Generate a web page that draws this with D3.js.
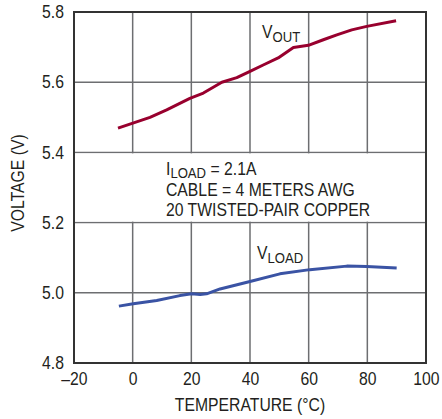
<!DOCTYPE html>
<html><head><meta charset="utf-8">
<script src="https://cdn.jsdelivr.net/npm/d3@7"></script>
<style>
body{margin:0;background:#fff;}
svg text{font-family:"Liberation Sans","Arial",sans-serif;fill:#231f20;}
</style></head>
<body><svg id="c" width="442" height="419"></svg>
<script>
const xTicks = [-20, 0, 20, 40, 60, 80, 100];
const yTicks = [4.8, 5.0, 5.2, 5.4, 5.6, 5.8];
const voutTemp = [-5, 5.9, 11.6, 19.5, 24.1, 30.4, 35.5, 40, 44.5, 49.6, 54.8, 59.9, 65, 69.6, 74.7, 79.8, 89.8];
const voutVals = [5.469, 5.500, 5.521, 5.554, 5.569, 5.600, 5.613, 5.631, 5.649, 5.669, 5.699, 5.705, 5.721, 5.735, 5.749, 5.759, 5.775];
const vloadTemp = [-4.7, 0.2, 8.2, 16.1, 20.1, 23, 25.2, 29.8, 40, 50.2, 60.4, 73, 79.8, 90];
const vloadVals = [4.962, 4.969, 4.978, 4.992, 4.997, 4.995, 4.997, 5.011, 5.032, 5.054, 5.066, 5.076, 5.075, 5.071];
const noteLines = ["CABLE = 4 METERS AWG", "20 TWISTED-PAIR COPPER"];

const SQ = 0.875;
function condense(sel) {
  sel.each(function () {
    const xx = +this.getAttribute("x") || 0;
    const prev = this.getAttribute("transform") || "";
    this.setAttribute("transform", `${prev} translate(${xx},0) scale(${SQ},1) translate(${-xx},0)`);
  });
}

const svg = d3.select("#c");
const x = d3.scaleLinear().domain([-20, 100]).range([74, 426]);
const y = d3.scaleLinear().domain([4.8, 5.8]).range([363, 12]);

// grid
svg.append("g").selectAll("line").data(xTicks.slice(1, -1)).join("line")
  .attr("x1", d => x(d)).attr("x2", d => x(d)).attr("y1", y(5.8)).attr("y2", y(4.8))
  .attr("stroke", "#6d6e71").attr("stroke-width", 1.5);
svg.append("g").selectAll("line").data(yTicks.slice(1, -1)).join("line")
  .attr("x1", x(-20)).attr("x2", x(100)).attr("y1", d => y(d)).attr("y2", d => y(d))
  .attr("stroke", "#6d6e71").attr("stroke-width", 1.5);

// note box
svg.append("rect").attr("x", x(-20) + 1).attr("width", x(100) - x(-20) - 2)
  .attr("y", y(5.4) + 1).attr("height", y(5.2) - y(5.4) - 2).attr("fill", "#fff");

// frame
svg.append("rect").attr("x", x(-20)).attr("y", y(5.8))
  .attr("width", x(100) - x(-20)).attr("height", y(4.8) - y(5.8))
  .attr("fill", "none").attr("stroke", "#333").attr("stroke-width", 2);

// axes
const xAxis = svg.append("g").attr("transform", `translate(0,${y(4.8)})`)
  .call(d3.axisBottom(x).tickValues(xTicks).tickSize(0).tickPadding(9).tickFormat(d => d < 0 ? "\u2013" + Math.abs(d) : d));
xAxis.select(".domain").remove();
xAxis.selectAll("text").attr("font-size", 18).style("fill", "#231f20")
  .attr("font-family", "Liberation Sans, Arial, sans-serif").call(condense);
const yAxis = svg.append("g").attr("transform", `translate(${x(-20)},0)`)
  .call(d3.axisLeft(y).tickValues(yTicks).tickSize(0).tickPadding(10).tickFormat(d3.format(".1f")));
yAxis.select(".domain").remove();
yAxis.selectAll("text").attr("font-size", 18).style("fill", "#231f20")
  .attr("font-family", "Liberation Sans, Arial, sans-serif").call(condense);

// titles
svg.append("text").attr("x", 250).attr("y", 411).attr("text-anchor", "middle")
  .attr("font-size", 18).text("TEMPERATURE (°C)").call(condense);
svg.append("text").attr("transform", `translate(24,183) rotate(-90) scale(${SQ},1)`).attr("text-anchor", "middle")
  .attr("font-size", 18).text("VOLTAGE (V)");

// lines
const line = d3.line().x(d => x(d[0])).y(d => y(d[1])).curve(d3.curveLinear);
svg.append("path").datum(voutTemp.map((t, i) => [t, voutVals[i]]))
  .attr("d", line).attr("fill", "none").attr("stroke", "#98002e").attr("stroke-width", 3)
  .attr("stroke-linejoin", "round");
svg.append("path").datum(vloadTemp.map((t, i) => [t, vloadVals[i]]))
  .attr("d", line).attr("fill", "none").attr("stroke", "#3a53a4").attr("stroke-width", 3)
  .attr("stroke-linejoin", "round");

// labels
function vlabel(xp, yp, sub) {
  const t = svg.append("text").attr("x", xp).attr("y", yp).attr("font-size", 18);
  t.append("tspan").text("V");
  t.append("tspan").attr("dy", 4).attr("font-size", 15).text(sub);
  condense(t);
}
vlabel(262, 38, "OUT");
vlabel(257, 259, "LOAD");

const note = svg.append("text").attr("x", 166).attr("y", 175).attr("font-size", 18);
note.append("tspan").text("I");
note.append("tspan").attr("dy", 3).attr("font-size", 15).text("LOAD");
note.append("tspan").attr("dy", -3).text(" = 2.1A");
condense(note);
svg.append("g").selectAll("text").data(noteLines).join("text")
  .attr("x", 166).attr("y", (d, i) => 196 + i * 20.5).attr("font-size", 18).text(d => d).call(condense);
</script></body></html>
